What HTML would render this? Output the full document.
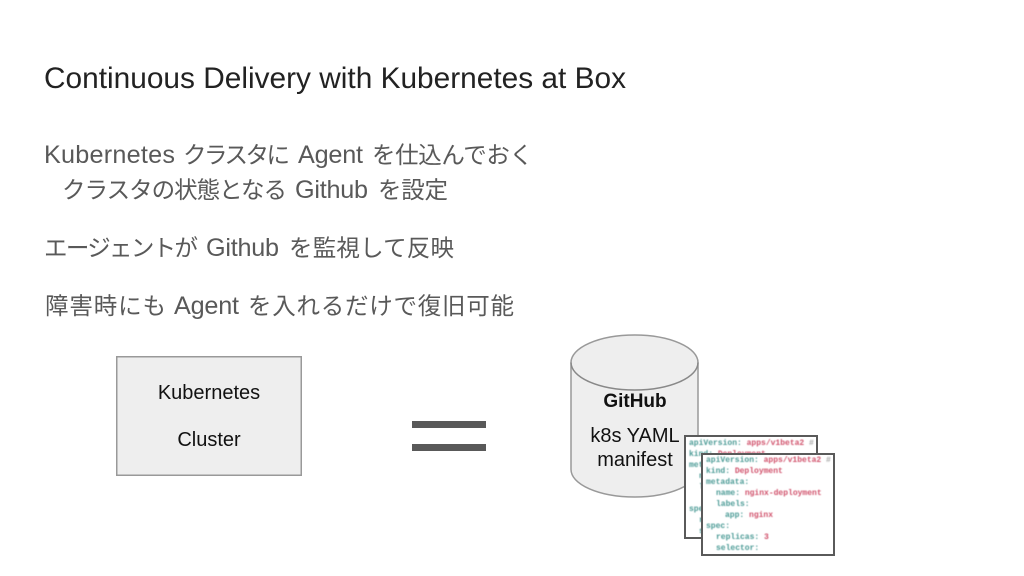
<!DOCTYPE html>
<html><head><meta charset="utf-8">
<style>
html,body{margin:0;padding:0;background:#fff}
#s{position:relative;width:1024px;height:576px;overflow:hidden;background:#fff;font-family:"Liberation Sans","Noto Sans CJK JP",sans-serif}
.t{position:absolute;white-space:pre;line-height:1}
.c{color:#111;font-size:20px;text-align:center}
svg text{font-family:"Liberation Sans","Noto Sans CJK JP",sans-serif;white-space:pre}
.l{font-size:25.2px;fill:#595959}
.j{font-size:23.5px;fill:#595959}
.y{position:absolute;background:#fff;border:2px solid #5a5a5a;box-sizing:border-box;overflow:hidden}
.y div{position:absolute;white-space:pre;font:bold 8px/1 "Liberation Mono","DejaVu Sans Mono",monospace;color:#4a9a95;filter:blur(.4px)}
.y i{font-style:normal;color:#d0506a}
.y b{color:#aaa}
</style></head><body>
<div id="s">
<svg style="position:absolute;left:0;top:0" width="1024" height="576">
<text x="44" y="88" font-size="30" fill="#222" textLength="582" lengthAdjust="spacingAndGlyphs">Continuous Delivery with Kubernetes at Box</text>

<text class="l" x="44" y="163" textLength="131">Kubernetes</text>
<text class="j" x="183" y="163" textLength="107">クラスタに</text>
<text class="l" x="298" y="163" textLength="65">Agent</text>
<text class="j" x="372" y="163" textLength="161">を仕込んでおく</text>

<text class="j" x="62" y="198" textLength="225">クラスタの状態となる</text>
<text class="l" x="295" y="198" textLength="73">Github</text>
<text class="j" x="378" y="198" textLength="70">を設定</text>

<text class="j" x="44" y="256" textLength="154">エージェントが</text>
<text class="l" x="206" y="256" textLength="73">Github</text>
<text class="j" x="289" y="256" textLength="165">を監視して反映</text>

<text class="j" x="45" y="314" textLength="121">障害時にも</text>
<text class="l" x="174" y="314" textLength="65">Agent</text>
<text class="j" x="248" y="314" textLength="266">を入れるだけで復旧可能</text>

<rect x="116.75" y="356.75" width="184.5" height="118.5" fill="#eeeeee" stroke="#999" stroke-width="1.5"/>

<path d="M571 362.5 V469.5 A63.5 27.5 0 0 0 698 469.5 V362.5 A63.5 27.5 0 0 0 571 362.5 Z" fill="#eeeeee" stroke="#999" stroke-width="1.5"/>
<path d="M571 362.5 A63.5 27.5 0 0 0 698 362.5" fill="none" stroke="#888" stroke-width="1.5"/>
</svg>

<div class="t c" style="left:116px;width:186px;top:383px">Kubernetes</div>
<div class="t c" style="left:116px;width:186px;top:430px">Cluster</div>

<div style="position:absolute;left:412px;top:421px;width:74px;height:7px;background:#595959"></div>
<div style="position:absolute;left:412px;top:444px;width:74px;height:7px;background:#595959"></div>

<div class="t c" style="left:571px;width:128px;top:392px;font-weight:bold;font-size:19px">GitHub</div>
<div class="t c" style="left:571px;width:128px;top:426px">k8s YAML</div>
<div class="t c" style="left:571px;width:128px;top:450px">manifest</div>

<div class="y" style="left:684px;top:435px;width:134px;height:104px">
<div style="left:3px;top:3px">apiVersion: <i>apps/v1beta2</i> <b>#</b></div>
<div style="left:3px;top:14px">kind: <i>Deployment</i></div>
<div style="left:3px;top:25px">met</div>
<div style="left:13px;top:36px">n</div>
<div style="left:13px;top:47px">l</div>
<div style="left:3px;top:69px">spe</div>
<div style="left:13px;top:80px">r</div>
<div style="left:13px;top:91px">s</div>
</div>
<div class="y" style="left:701px;top:453px;width:134px;height:103px">
<div style="left:3px;top:2px">apiVersion: <i>apps/v1beta2</i> <b>#</b></div>
<div style="left:3px;top:13px">kind: <i>Deployment</i></div>
<div style="left:3px;top:24px">metadata:</div>
<div style="left:13px;top:35px">name: <i>nginx-deployment</i></div>
<div style="left:13px;top:46px">labels:</div>
<div style="left:22px;top:57px">app: <i>nginx</i></div>
<div style="left:3px;top:68px">spec:</div>
<div style="left:13px;top:79px">replicas: <i>3</i></div>
<div style="left:13px;top:90px">selector:</div>
</div>
</div>
</body></html>
